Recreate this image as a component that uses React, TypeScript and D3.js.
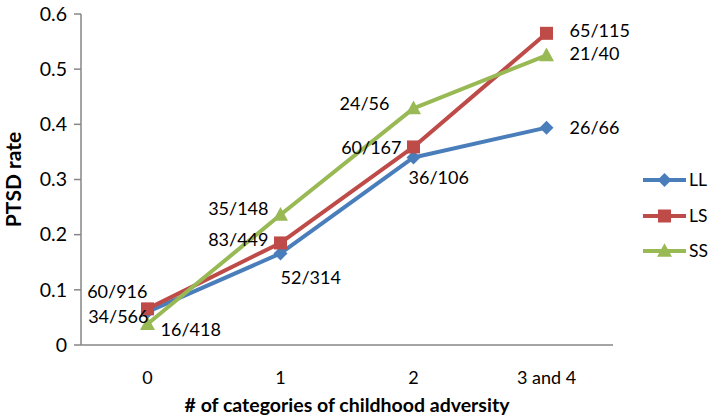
import React from "react";
import * as d3 from "d3";

const categories = ["0", "1", "2", "3 and 4"];
const seriesNames = ["LL", "LS", "SS"];
const llValues = [0.060, 0.166, 0.340, 0.394];
const lsValues = [0.0655, 0.185, 0.359, 0.565];
const ssValues = [0.038, 0.236, 0.429, 0.525];
const llLabels = ["34/566", "52/314", "36/106", "26/66"];
const lsLabels = ["60/916", "83/449", "60/167", "65/115"];
const ssLabels = ["16/418", "35/148", "24/56", "21/40"];
const yTicks = [0, 0.1, 0.2, 0.3, 0.4, 0.5, 0.6];

// label placements (style, kept separate from data)
const placements: Record<string, { dx: number; dy: number; anchor: string }[]> = {
  LL: [
    { dx: 1, dy: 5, anchor: "end" },
    { dx: 0, dy: 24, anchor: "start" },
    { dx: -5, dy: 20, anchor: "start" },
    { dx: 23, dy: 0, anchor: "start" },
  ],
  LS: [
    { dx: 0, dy: -17, anchor: "end" },
    { dx: -12, dy: -3, anchor: "end" },
    { dx: -12, dy: 1, anchor: "end" },
    { dx: 23, dy: -3, anchor: "start" },
  ],
  SS: [
    { dx: 13, dy: 6, anchor: "start" },
    { dx: -12, dy: -6, anchor: "end" },
    { dx: -24, dy: -5, anchor: "end" },
    { dx: 23, dy: -2, anchor: "start" },
  ],
};

const colors: Record<string, string> = { LL: "#4A7EBB", LS: "#BE4B48", SS: "#98B954" };
const FONT = "Lato, 'Open Sans', sans-serif";

function Marker({ name, x, y }: { name: string; x: number; y: number }) {
  const c = colors[name];
  if (name === "LL") {
    const r = 7;
    return <path d={`M${x},${y - r}L${x + r},${y}L${x},${y + r}L${x - r},${y}Z`} fill={c} />;
  }
  if (name === "LS") {
    const s = 13;
    return <rect x={x - s / 2} y={y - s / 2} width={s} height={s} fill={c} />;
  }
  const h = 13;
  return <path d={`M${x},${y - h * 0.6}L${x + 7.5},${y + h * 0.45}L${x - 7.5},${y + h * 0.45}Z`} fill={c} />;
}

export default function App() {
  const width = 712;
  const height = 420;
  const left = 81, right = 613, top = 14, bottom = 345;

  const x = d3.scaleBand().domain(categories).range([left, right]);
  const y = d3.scaleLinear().domain([0, 0.6]).range([bottom, top]);
  const cx = (c: string) => (x(c) as number) + x.bandwidth() / 2;

  const series = [
    { name: "LL", values: llValues, labels: llLabels },
    { name: "LS", values: lsValues, labels: lsLabels },
    { name: "SS", values: ssValues, labels: ssLabels },
  ];

  const line = d3
    .line<number>()
    .x((_, i) => cx(categories[i]))
    .y((d) => y(d));

  return (
    <svg width={width} height={height} style={{ position: "absolute", left: 0, top: 0 }} fontFamily={FONT}>
      <rect width={width} height={height} fill="#fff" />
      {/* y axis */}
      <line x1={left} x2={left} y1={top} y2={bottom} stroke="#868686" strokeWidth={1.5} />
      {yTicks.map((t) => (
        <g key={t}>
          <line x1={left - 7} x2={left} y1={y(t)} y2={y(t)} stroke="#868686" strokeWidth={1.5} />
          <text x={left - 14} y={y(t)} dy="0.35em" textAnchor="end" fontSize={19.5} fill="#000">
            {t === 0 ? "0" : d3.format(".1f")(t)}
          </text>
        </g>
      ))}
      {/* x axis */}
      <line x1={left} x2={right} y1={bottom} y2={bottom} stroke="#868686" strokeWidth={1.5} />
      {categories.map((c) => (
        <text key={c} x={cx(c)} y={378} dy="0.35em" textAnchor="middle" fontSize={18} fill="#000">
          {c}
        </text>
      ))}
      <text x={(left + right) / 2} y={405} dy="0.35em" textAnchor="middle" fontSize={19.5} fontWeight="bold">
        # of categories of childhood adversity
      </text>
      <text
        transform={`translate(14,${(top + bottom) / 2}) rotate(-90)`}
        dy="0.35em"
        textAnchor="middle"
        fontSize={21}
        fontWeight="bold"
      >
        PTSD rate
      </text>
      {/* series lines */}
      {series.map((s) => (
        <path key={s.name} d={line(s.values) || ""} fill="none" stroke={colors[s.name]} strokeWidth={4} strokeLinejoin="round" />
      ))}
      {series.map((s) => (
        <g key={s.name + "m"}>
          {s.values.map((v, i) => (
            <Marker key={i} name={s.name} x={cx(categories[i])} y={y(v)} />
          ))}
        </g>
      ))}
      {series.map((s) => (
        <g key={s.name + "l"}>
          {s.values.map((v, i) => {
            const p = placements[s.name][i];
            return (
              <text
                key={i}
                x={cx(categories[i]) + p.dx}
                y={y(v) + p.dy}
                dy="0.35em"
                textAnchor={p.anchor}
                fontSize={18}
                fill="#000"
              >
                {s.labels[i]}
              </text>
            );
          })}
        </g>
      ))}
      {/* legend */}
      {seriesNames.map((n, i) => {
        const ly = [180, 216, 251][i];
        return (
          <g key={n}>
            <line x1={643} x2={686} y1={ly} y2={ly} stroke={colors[n]} strokeWidth={4} />
            <Marker name={n} x={664.5} y={ly} />
            <text x={689} y={ly} dy="0.35em" fontSize={17.5} fill="#000">
              {n}
            </text>
          </g>
        );
      })}
    </svg>
  );
}
